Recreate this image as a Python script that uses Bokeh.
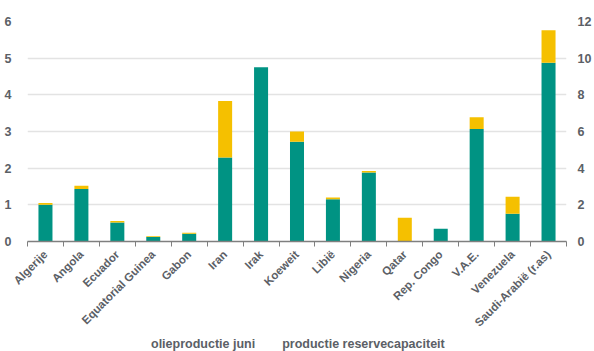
from math import pi
from bokeh.plotting import figure
from bokeh.layouts import column
from bokeh.models import (ColumnDataSource, Range1d, LinearAxis, FixedTicker,
                          Legend, LegendItem)
from bokeh.embed import file_html
from bokeh.resources import INLINE

countries = ["Algerije", "Angola", "Ecuador", "Equatorial Guinea", "Gabon", "Iran",
             "Irak", "Koeweit", "Libië", "Nigeria", "Qatar", "Rep. Congo",
             "V.A.E.", "Venezuela", "Saudi-Arabië (r.as)"]
# left axis (mln vaten per dag) for all but Saudi-Arabië
production = [1.00, 1.43, 0.52, 0.12, 0.21, 2.29, 4.75, 2.72, 1.15, 1.88, 0.0, 0.35, 3.07, 0.76]
reserve = [0.05, 0.09, 0.04, 0.02, 0.03, 1.54, 0.0, 0.28, 0.05, 0.04, 0.65, 0.0, 0.32, 0.46]
# right axis for Saudi-Arabië
saudi_production = [9.75]
saudi_reserve = [1.77]
left_ticks = [0, 1, 2, 3, 4, 5, 6]
right_ticks = [0, 2, 4, 6, 8, 10, 12]
series_labels = ["olieproductie juni", "productie reservecapaciteit"]

GREEN = "#009383"
YELLOW = "#f5c000"
TEXT = "#5b6066"
FONT = "Liberation Sans"
FS = "12.5px"

n = len(countries)
centers = [i + 0.5 for i in range(n)]

src = ColumnDataSource(dict(x=centers[:-1], production=production, reserve=reserve))
src_sa = ColumnDataSource(dict(x=centers[-1:], production=saudi_production, reserve=saudi_reserve))

p = figure(width=594, height=335, output_backend="svg", toolbar_location=None,
           x_range=Range1d(0, n), y_range=Range1d(0, 6),
           min_border_left=27, min_border_right=24, min_border_top=21,
           min_border_bottom=93, outline_line_color=None)
p.extra_y_ranges = {"sa": Range1d(0, 12)}

p.vbar_stack(["production", "reserve"], x="x", width=0.39, source=src,
             color=[GREEN, YELLOW], line_color=None)
p.vbar_stack(["production", "reserve"], x="x", width=0.39, source=src_sa,
             color=[GREEN, YELLOW], line_color=None, y_range_name="sa")

# x axis
xa = p.xaxis[0]
xa.ticker = FixedTicker(ticks=centers, minor_ticks=list(range(n + 1)))
xa.major_label_overrides = {c: lab for c, lab in zip(centers, countries)}
xa.major_label_orientation = pi / 4
xa.major_tick_line_color = None
xa.major_tick_out = 0
xa.major_tick_in = 0
xa.minor_tick_line_color = "#7f7f7f"
xa.minor_tick_out = 5
xa.minor_tick_in = 0
xa.axis_line_color = "#7f7f7f"
xa.axis_line_width = 1.5
xa.major_label_text_font = FONT
xa.major_label_text_font_style = "bold"
xa.major_label_text_font_size = "11.5px"
xa.major_label_text_color = TEXT
xa.major_label_standoff = 6

# left axis
ya = p.yaxis[0]
ya.ticker = FixedTicker(ticks=left_ticks)
ya.axis_line_color = None
ya.major_tick_line_color = None
ya.minor_tick_line_color = None
ya.major_label_text_font = FONT
ya.major_label_text_font_style = "bold"
ya.major_label_text_font_size = FS
ya.major_label_text_color = TEXT
ya.major_label_standoff = 10

# right axis
ra = LinearAxis(y_range_name="sa", ticker=FixedTicker(ticks=right_ticks))
ra.axis_line_color = None
ra.major_tick_line_color = None
ra.minor_tick_line_color = None
ra.major_label_text_font = FONT
ra.major_label_text_font_style = "bold"
ra.major_label_text_font_size = FS
ra.major_label_text_color = TEXT
ra.major_label_standoff = 5
p.add_layout(ra, "right")

p.xgrid.grid_line_color = None
p.ygrid.grid_line_color = "#e3e3e3"
p.ygrid.grid_line_width = 1.5

# legend strip underneath the chart
lg = figure(width=594, height=16, output_backend="svg", toolbar_location=None,
            x_range=Range1d(0, 1), y_range=Range1d(0, 1),
            x_axis_type=None, y_axis_type=None, min_border=0,
            outline_line_color=None)
lg.xgrid.grid_line_color = None
lg.ygrid.grid_line_color = None
empty = ColumnDataSource(dict(x=[], top=[]))
g1 = lg.vbar(x="x", top="top", width=0.1, source=empty, color=GREEN)
g2 = lg.vbar(x="x", top="top", width=0.1, source=empty, color=YELLOW)

legend = Legend(items=[LegendItem(label=series_labels[0], renderers=[g1]),
                       LegendItem(label=series_labels[1], renderers=[g2])],
                orientation="horizontal", location=(113, 0),
                label_text_font=FONT, label_text_font_style="bold",
                label_text_font_size=FS, label_text_color=TEXT,
                glyph_width=7, glyph_height=7, label_standoff=4, spacing=16,
                padding=0, margin=0, border_line_color=None, background_fill_alpha=0,
                label_height=12)
lg.add_layout(legend, "center")

layout = column(p, lg, spacing=0)
open("out.html", "w").write(file_html(layout, INLINE))
